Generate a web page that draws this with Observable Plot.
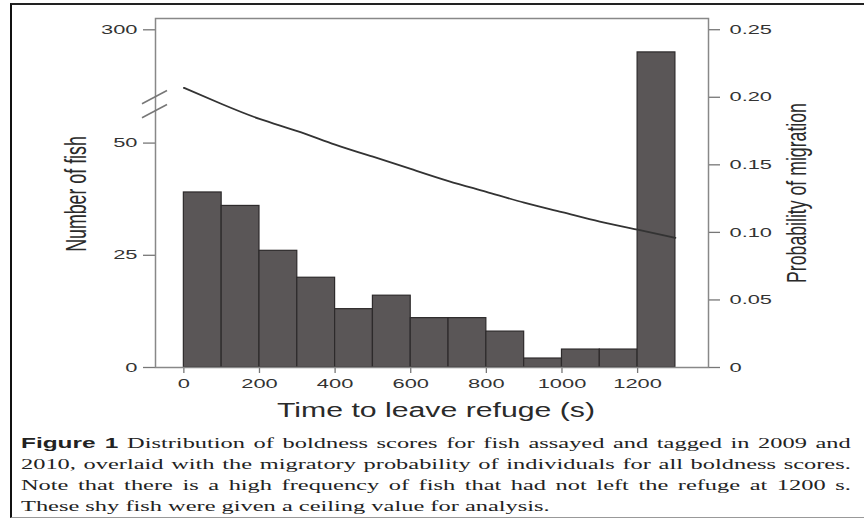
<!DOCTYPE html>
<html>
<head>
<meta charset="utf-8">
<script src="https://cdn.jsdelivr.net/npm/d3@7"></script>
<script src="https://cdn.jsdelivr.net/npm/@observablehq/plot@0.6"></script>
<style>
  body { margin: 0; background: #fff; }
  #fig { position: relative; width: 864px; height: 520px; overflow: hidden; background: #fff; }
  #border {
    position: absolute; left: 10px; top: 3px; width: 900px; height: 515px;
    box-sizing: border-box;
    border-left: 2px solid #111; border-top: 2px solid #222; border-bottom: 1px solid #999;
  }
  .layer { position: absolute; left: 0; top: 0; }
  .title {
    position: absolute; width: 0; height: 0;
    font-family: "Liberation Sans", Arial, Helvetica, sans-serif; color: #2a2a2a;
  }
  .title span {
    position: absolute; left: 0; top: 0; white-space: nowrap;
    transform: translate(-50%, -50%);
  }
  #caption {
    position: absolute; left: 21px; top: 432px;
    font-family: "Liberation Serif", "Times New Roman", serif; font-size: 15px; line-height: 21px;
    color: #222;
  }
  #caption .inner { width: 510px; transform: scaleX(1.627); transform-origin: 0 0; }
  #caption .ln { text-align: justify; text-align-last: justify; }
  #caption .ln.last { text-align: left; text-align-last: left; }
  #caption b { font-family: "Liberation Sans", Arial, sans-serif; font-weight: bold; }
</style>
</head>
<body>
<div id="fig">
  <div id="border"></div>
  <div id="plots"></div>
  <div class="title" id="ytitle" style="left:76.5px; top:194px; font-size:17.8px; transform: scaleX(1.7) rotate(-90deg);"><span>Number of fish</span></div>
  <div class="title" id="y2title" style="left:797px; top:193px; font-size:17.7px; transform: scaleX(1.6) rotate(-90deg);"><span>Probability of migration</span></div>
  <div class="title" id="xtitle" style="left:435.5px; top:409.5px; font-size:19.5px; transform: scaleX(1.55);"><span>Time to leave refuge (s)</span></div>
  <div id="caption"><div class="inner">
    <div class="ln"><b>Figure 1</b> Distribution of boldness scores for fish assayed and tagged in 2009 and</div>
    <div class="ln">2010, overlaid with the migratory probability of individuals for all boldness scores.</div>
    <div class="ln">Note that there is a high frequency of fish that had not left the refuge at 1200 s.</div>
    <div class="ln last">These shy fish were given a ceiling value for analysis.</div>
  </div></div>
</div>
<script>
// Histogram of boldness scores (time to leave refuge, 100 s bins)
const binStart = [0, 100, 200, 300, 400, 500, 600, 700, 800, 900, 1000, 1100, 1200];
const binEnd   = [100, 200, 300, 400, 500, 600, 700, 800, 900, 1000, 1100, 1200, 1300];
const fishCount = [39, 36, 26, 20, 13, 16, 11, 11, 8, 2, 4, 4, 295];

// Fitted probability of migration across boldness scores
const probTime  = [0, 100, 200, 300, 400, 500, 600, 700, 800, 900, 1000, 1100, 1200, 1300];
const probValue = [0.207, 0.195, 0.184, 0.175, 0.165, 0.156, 0.147, 0.138, 0.130, 0.122, 0.115, 0.108, 0.102, 0.096];

// Tick labels
const timeTicks  = [0, 200, 400, 600, 800, 1000, 1200];
const countTicks = [0, 25, 50, 300];
const probTicks  = [0, 0.05, 0.10, 0.15, 0.20, 0.25];

// Broken count axis: counts up to 56 keep their height, 286–302.5 sit above a short gap
const breakLow = 56, breakHigh = 286;
const brk = d3.scaleLinear().domain([0, breakLow, breakHigh, 302.5]).range([0, breakLow, 61.14, 77.76]);

const bins = binStart.map((s, i) => ({start: s, end: binEnd[i], base: 0, h: brk(fishCount[i])}));
const prob = probTime.map((t, i) => ({t, p: probValue[i]}));

const W = 864, H = 400;
const frameOpts = {width: W, height: H, marginLeft: 155, marginRight: 156, marginTop: 18, marginBottom: 33};
const baseStyle = {background: "transparent", fontFamily: "'Liberation Sans', Arial, Helvetica, sans-serif", fontSize: "13px", color: "#333"};
const xDomain = [-75, 1387.5];

const countPlot = Plot.plot({
  ...frameOpts,
  style: baseStyle,
  x: {domain: xDomain},
  y: {domain: [0, brk(302.5)]},
  marks: [
    Plot.rect(bins, {x1: "start", x2: "end", y1: "base", y2: "h", fill: "#5a5657", stroke: "#2d2a2b", strokeWidth: 1.2}),
    Plot.axisX({ticks: timeTicks, tickFormat: d => String(d), tickSize: 6, tickPadding: 5, label: null, stroke: "#777", strokeWidth: 1.3, fill: "#333"}),
    Plot.axisY({anchor: "left", ticks: countTicks.map(brk), tickFormat: (d, i) => String(countTicks[i]), tickSize: 12, tickPadding: 6, label: null, stroke: "#777", strokeWidth: 1.3, fill: "#333"}),
    Plot.frame({stroke: "#888", strokeWidth: 1.5})
  ]
});

// Probability curve on its own right-hand axis
const probPlot = Plot.plot({
  ...frameOpts,
  style: baseStyle,
  x: {domain: xDomain, axis: null},
  y: {domain: [0, 0.2583]},
  marks: [
    Plot.line(prob, {x: "t", y: "p", curve: "natural", stroke: "#333", strokeWidth: 1.8}),
    Plot.axisY({anchor: "right", ticks: probTicks, tickFormat: d => d === 0 ? "0" : d3.format(".2f")(d), tickSize: 11, tickPadding: 10, label: null, stroke: "#777", strokeWidth: 1.3, fill: "#333"})
  ]
});

countPlot.classList.add("layer");
probPlot.classList.add("layer");
const holder = document.getElementById("plots");
holder.appendChild(countPlot);
holder.appendChild(probPlot);

// Axis-break marks on the left axis, centred in the gap
const ys = countPlot.scale("y");
const yGap = ys.apply((brk(breakLow) + brk(breakHigh)) / 2);
const xAxisPos = frameOpts.marginLeft;
const breakG = d3.select(countPlot).append("g").attr("stroke", "#777").attr("stroke-width", 1.5);
for (const off of [-7, 7]) {
  breakG.append("line")
    .attr("x1", xAxisPos - 13).attr("y1", yGap + off + 6.6)
    .attr("x2", xAxisPos + 12).attr("y2", yGap + off - 6.6);
}

// Wide lettering for tick labels
document.querySelectorAll("#plots svg text").forEach(t => {
  const w = t.getComputedTextLength();
  if (w > 0) {
    t.setAttribute("textLength", (w * 1.68).toFixed(1));
    t.setAttribute("lengthAdjust", "spacingAndGlyphs");
  }
});
</script>
</body>
</html>
